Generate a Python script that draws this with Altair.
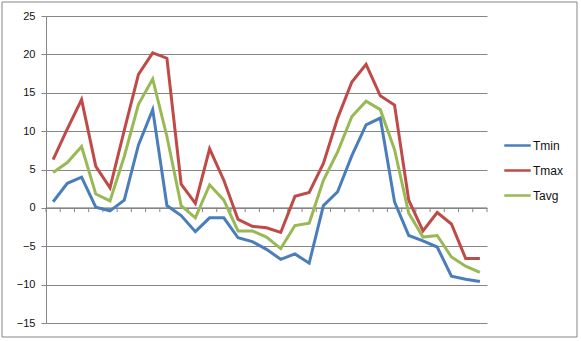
import altair as alt
import pandas as pd

series_names = ["Tmin", "Tmax", "Tavg"]
series_colors = ["#4A7EBB", "#BE4B48", "#98B954"]

tmin = [0.8, 3.2, 4.0, 0.1, -0.4, 1.0, 8.2, 12.8, 0.3, -1.0, -3.1, -1.3, -1.3, -3.9, -4.4, -5.4,
        -6.7, -6.0, -7.2, 0.3, 2.1, 6.8, 10.8, 11.7, 0.8, -3.6, -4.3, -5.1, -8.9, -9.3, -9.6]
tmax = [6.3, 10.3, 14.1, 5.4, 2.6, 10.1, 17.4, 20.2, 19.5, 3.1, 0.6, 7.7, 3.6, -1.5, -2.4, -2.6,
        -3.2, 1.5, 2.0, 5.8, 11.7, 16.4, 18.7, 14.6, 13.4, 1.0, -3.0, -0.6, -2.1, -6.6, -6.6]
tavg = [4.6, 5.9, 8.0, 1.8, 0.9, 6.7, 13.5, 16.8, 9.3, 0.3, -1.3, 3.0, 1.0, -3.0, -3.0, -3.8,
        -5.3, -2.3, -2.0, 3.6, 7.3, 11.9, 13.9, 12.8, 7.6, -0.7, -3.8, -3.6, -6.4, -7.6, -8.4]
y_ticks = [-15, -10, -5, 0, 5, 10, 15, 20, 25]

n = len(tmin)
rows = []
for name, vals in zip(series_names, [tmin, tmax, tavg]):
    for i, v in enumerate(vals):
        rows.append({"series": name, "pos": i + 0.5, "value": v})
df = pd.DataFrame(rows)

ticks_df = pd.DataFrame({"pos": list(range(n + 1)), "y0": [0] * (n + 1), "y1": [-0.55] * (n + 1)})

xscale = alt.Scale(domain=[0, n], nice=False, zero=False)
yscale = alt.Scale(domain=[-15, 25], nice=False)

grid_color = "#868686"

y_axis = alt.Axis(values=y_ticks, tickCount=len(y_ticks), title=None, grid=True,
                  gridColor=grid_color, domainColor=grid_color, tickColor=grid_color, tickSize=5,
                  labelFont="Liberation Sans", labelFontSize=11, labelColor="#111111",
                  labelPadding=6, labelOverlap=False)

axis_line = alt.Chart(pd.DataFrame({"y": [0]})).mark_rule(color=grid_color, strokeWidth=1).encode(
    y=alt.Y("y:Q", scale=yscale, axis=y_axis)
)

tick_marks = alt.Chart(ticks_df).mark_rule(color=grid_color, strokeWidth=1).encode(
    x=alt.X("pos:Q", scale=xscale, axis=None),
    y=alt.Y("y0:Q", scale=yscale, axis=y_axis),
    y2="y1:Q",
)

lines = alt.Chart(df).mark_line(strokeWidth=3).encode(
    x=alt.X("pos:Q", scale=xscale, axis=None),
    y=alt.Y("value:Q", scale=yscale, axis=y_axis),
    color=alt.Color("series:N",
                    scale=alt.Scale(domain=series_names, range=series_colors),
                    legend=alt.Legend(title=None, orient="none", legendX=457, legendY=115,
                                      symbolType="stroke", symbolSize=700, symbolStrokeWidth=2.5,
                                      labelFont="Liberation Sans", labelFontSize=12,
                                      labelColor="#111111", rowPadding=4, labelOffset=1)),
)

dummy = pd.DataFrame({"a": [0]})
border_layers = [
    alt.Chart(dummy).mark_rule(color=grid_color, strokeWidth=1).encode(
        x=alt.value(-44), x2=alt.value(531), y=alt.value(-14)),
    alt.Chart(dummy).mark_rule(color=grid_color, strokeWidth=1).encode(
        x=alt.value(-44), x2=alt.value(531), y=alt.value(321)),
    alt.Chart(dummy).mark_rule(color=grid_color, strokeWidth=1).encode(
        x=alt.value(-44), y=alt.value(-14), y2=alt.value(321)),
    alt.Chart(dummy).mark_rule(color=grid_color, strokeWidth=1).encode(
        x=alt.value(531), y=alt.value(-14), y2=alt.value(321)),
]

chart = alt.layer(axis_line, tick_marks, lines, *border_layers).properties(
    width=441, height=307,
    autosize=alt.AutoSizeParams(type="none"),
    padding={"left": 46, "top": 16, "right": 94, "bottom": 18},
).configure_view(stroke=None)

chart.save("out.html", embed_options={"renderer": "svg", "actions": False})
